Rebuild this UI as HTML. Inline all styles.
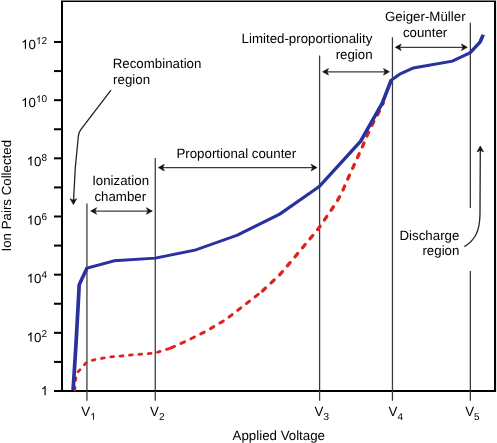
<!DOCTYPE html>
<html><head><meta charset="utf-8"><style>
html,body{margin:0;padding:0;background:#fff;}
#w{will-change:transform;width:497px;height:443px;overflow:hidden;}
svg{display:block;text-rendering:geometricPrecision;}
text{font-family:"Liberation Sans",sans-serif;fill:#000;}
.one{fill-opacity:0;}
</style></head><body><div id="w">
<svg width="497" height="443" viewBox="0 0 497 443">
<defs>
<marker id="ah" viewBox="0 0 10 10" refX="10" refY="5" markerUnits="userSpaceOnUse" markerWidth="6.8" markerHeight="7.6" preserveAspectRatio="none" orient="auto-start-reverse">
<path d="M0,0 L10,5 L0,10 L2.7,5 Z" fill="#111"/>
</marker>
</defs>
<rect x="0" y="0" width="497" height="443" fill="#fff"/>

<!-- frame -->
<rect x="61" y="0" width="435" height="1" fill="#808080"/>
<rect x="496" y="0" width="1" height="392" fill="#e6e6e6"/>
<rect x="61" y="1" width="435" height="1" fill="#000"/>
<rect x="61" y="1" width="2" height="391" fill="#000"/>
<rect x="494" y="1" width="2" height="391" fill="#000"/>
<rect x="54" y="390" width="442" height="2" fill="#000"/>
<rect x="54" y="390.00" width="8" height="2" fill="#000"/><rect x="54" y="360.92" width="8" height="2" fill="#000"/><rect x="54" y="331.83" width="8" height="2" fill="#000"/><rect x="54" y="302.75" width="8" height="2" fill="#000"/><rect x="54" y="273.67" width="8" height="2" fill="#000"/><rect x="54" y="244.58" width="8" height="2" fill="#000"/><rect x="54" y="215.50" width="8" height="2" fill="#000"/><rect x="54" y="186.42" width="8" height="2" fill="#000"/><rect x="54" y="157.33" width="8" height="2" fill="#000"/><rect x="54" y="128.25" width="8" height="2" fill="#000"/><rect x="54" y="99.17" width="8" height="2" fill="#000"/><rect x="54" y="70.08" width="8" height="2" fill="#000"/><rect x="54" y="41.00" width="8" height="2" fill="#000"/>
<!-- vertical lines -->
<g stroke="#383838" stroke-width="1.25">
<line x1="86.95" y1="203.6" x2="86.95" y2="400.7"/>
<line x1="155.25" y1="158.1" x2="155.25" y2="400.7"/>
<line x1="319.6" y1="55.4" x2="319.6" y2="400.7"/>
<line x1="392.45" y1="37.3" x2="392.45" y2="400.7"/>
<line x1="470.35" y1="22.7" x2="470.35" y2="207.9"/>
<line x1="470.35" y1="270.9" x2="470.35" y2="400.7"/>
</g>
<!-- double arrows -->
<g stroke="#3c3c3c" stroke-width="1.25">
<line x1="93" y1="211.0" x2="150" y2="211.0"/>
<line x1="160.5" y1="167.6" x2="315" y2="167.6"/>
<line x1="324.5" y1="71.8" x2="387.5" y2="71.8"/>
<line x1="397.5" y1="47.3" x2="466" y2="47.3"/>
</g>
<!-- recombination arrow -->
<path d="M111,90.1 L80.6,129.8 Q78.6,132.6 78.3,136.5 Q74.6,168 73.5,201" fill="none" stroke="#222" stroke-width="1.3"/>
<!-- discharge arrow -->
<path d="M464.4,246.6 C474.5,240.5 479.8,232 480,214 L480.3,149" fill="none" stroke="#222" stroke-width="1.3"/>
<g fill="#111" stroke="#111" stroke-width="0.6" stroke-linejoin="round">
<path d="M90.70,211.00 L96.60,214.30 L95.00,211.00 L96.60,207.70 Z"/><path d="M152.30,211.00 L146.40,207.70 L148.00,211.00 L146.40,214.30 Z"/>
<path d="M158.40,167.60 L164.30,170.90 L162.70,167.60 L164.30,164.30 Z"/><path d="M317.00,167.60 L311.10,164.30 L312.70,167.60 L311.10,170.90 Z"/>
<path d="M322.60,71.80 L328.50,75.10 L326.90,71.80 L328.50,68.50 Z"/><path d="M389.40,71.80 L383.50,68.50 L385.10,71.80 L383.50,75.10 Z"/>
<path d="M395.30,47.30 L401.20,50.60 L399.60,47.30 L401.20,44.00 Z"/><path d="M467.30,47.30 L461.40,44.00 L463.00,47.30 L461.40,50.60 Z"/>
<path d="M73.40,204.60 L76.70,198.70 L73.40,200.30 L70.10,198.70 Z"/><path d="M480.30,146.00 L477.00,151.90 L480.30,150.30 L483.60,151.90 Z"/>
</g>
<!-- curves -->
<g fill="none" stroke="#e0221f" stroke-width="3" stroke-linecap="round" stroke-linejoin="round">
<polyline points="74.8,390 75.3,380.6 77.2,372.6 80,369.8 86,362.9 90,360.8 96,359.4 110,357.0 130,355.1 155,353.0 170,348.3" stroke-dasharray="2.8 6.6" stroke-width="2.8"/>
<polyline points="170,348.3 188,340.2 206,331.2 225,320.1 243,306.2 261,292.3" stroke-dasharray="3.9 7.1" stroke-dashoffset="-1"/>
<polyline points="261,292.3 280,274.5 295,256.8 310,238.7 318.2,228.9 324.4,219.9 330.6,210.9 336.8,201.8 341.9,192.4 345.9,183.3 349.8,174.5 354,165.3 358.1,156.3 362.3,147.0 366.3,137.3 370.3,128.7 374.8,119.7 379.2,111.5 383.3,102.9" stroke-dasharray="4.2 7.6" stroke-dashoffset="-2" stroke-width="3.3"/>
</g>
<polyline transform="scale(1.28,1)" points="57.10937499999999,390 59.296875,345.7 61.40624999999999,296.7 61.875,284.7 67.96875,268.1 89.0625,260.8 121.328125,258.1 153.203125,249.8 185.234375,235.3 217.96875,214.6 249.453125,186.5 281.640625,141.3 298.4375,103.7 305.625,80.3 312.5,74.0 322.8125,68.0 353.59375,61.1 367.34375,52.7 375.0,42.2 377.5,34.8" fill="none" stroke="#28319e" stroke-width="2.9" stroke-linejoin="round"/>

<text x="47" y="48.7" text-anchor="end" font-size="13.3"><tspan class="one">1</tspan>0<tspan font-size="10" dy="-4.7"><tspan class="one">1</tspan>2</tspan></text><text x="47" y="107.0" text-anchor="end" font-size="13.3"><tspan class="one">1</tspan>0<tspan font-size="10" dy="-4.7"><tspan class="one">1</tspan>0</tspan></text><text x="47" y="165.6" text-anchor="end" font-size="13.3"><tspan class="one">1</tspan>0<tspan font-size="10" dy="-4.7">8</tspan></text><text x="47" y="224.5" text-anchor="end" font-size="13.3"><tspan class="one">1</tspan>0<tspan font-size="10" dy="-4.7">6</tspan></text><text x="47" y="282.7" text-anchor="end" font-size="13.3"><tspan class="one">1</tspan>0<tspan font-size="10" dy="-4.7">4</tspan></text><text x="47" y="341.6" text-anchor="end" font-size="13.3"><tspan class="one">1</tspan>0<tspan font-size="10" dy="-4.7">2</tspan></text><text x="48.1" y="395.3" text-anchor="end" font-size="13.3"><tspan class="one">1</tspan></text>
<text x="112.7" y="67.5" font-size="13.3" text-anchor="start">Recombination</text>
<text x="113.1" y="83.5" font-size="13.3" text-anchor="start">region</text>
<text x="120.6" y="184.5" font-size="13.3" text-anchor="middle">Ionization</text>
<text x="120.3" y="200.6" font-size="13.3" text-anchor="middle">chamber</text>
<text x="236.3" y="158.2" font-size="13.3" text-anchor="middle">Proportional counter</text>
<text x="372.4" y="43.2" font-size="13.3" text-anchor="end">Limited-proportionality</text>
<text x="372.6" y="59.0" font-size="13.3" text-anchor="end">region</text>
<text x="425.3" y="21.2" font-size="13.3" text-anchor="middle">Geiger-Müller</text>
<text x="425.1" y="36.9" font-size="13.3" text-anchor="middle">counter</text>
<text x="459.4" y="240.4" font-size="13.3" text-anchor="end">Discharge</text>
<text x="459.4" y="255.1" font-size="13.3" text-anchor="end">region</text>
<text x="278.8" y="440.0" font-size="13.3" text-anchor="middle">Applied Voltage</text>
<text x="81.3" y="416" font-size="13.3">V<tspan font-size="10" dy="3.8"><tspan class="one">1</tspan></tspan></text><text x="150.0" y="416" font-size="13.3">V<tspan font-size="10" dy="3.8">2</tspan></text><text x="314.5" y="416" font-size="13.3">V<tspan font-size="10" dy="3.8">3</tspan></text><text x="388.5" y="416" font-size="13.3">V<tspan font-size="10" dy="3.8">4</tspan></text><text x="465.2" y="416" font-size="13.3">V<tspan font-size="10" dy="3.8">5</tspan></text>
<text transform="translate(11.4,195.7) rotate(-90)" font-size="13.3" text-anchor="middle">Ion Pairs Collected</text>
<g fill="#000"><path transform="translate(21.06,48.70) scale(0.006494,-0.006309)" d="M763 0H583V1147Q518 1085 412.5 1023T223 930V1104Q375 1175 489 1276T650 1472H763V0Z"/><path transform="translate(35.88,44.00) scale(0.004883,-0.004743)" d="M763 0H583V1147Q518 1085 412.5 1023T223 930V1104Q375 1175 489 1276T650 1472H763V0Z"/><path transform="translate(21.06,107.00) scale(0.006494,-0.006309)" d="M763 0H583V1147Q518 1085 412.5 1023T223 930V1104Q375 1175 489 1276T650 1472H763V0Z"/><path transform="translate(35.88,102.30) scale(0.004883,-0.004743)" d="M763 0H583V1147Q518 1085 412.5 1023T223 930V1104Q375 1175 489 1276T650 1472H763V0Z"/><path transform="translate(26.62,165.60) scale(0.006494,-0.006309)" d="M763 0H583V1147Q518 1085 412.5 1023T223 930V1104Q375 1175 489 1276T650 1472H763V0Z"/><path transform="translate(26.62,224.50) scale(0.006494,-0.006309)" d="M763 0H583V1147Q518 1085 412.5 1023T223 930V1104Q375 1175 489 1276T650 1472H763V0Z"/><path transform="translate(26.62,282.70) scale(0.006494,-0.006309)" d="M763 0H583V1147Q518 1085 412.5 1023T223 930V1104Q375 1175 489 1276T650 1472H763V0Z"/><path transform="translate(26.62,341.60) scale(0.006494,-0.006309)" d="M763 0H583V1147Q518 1085 412.5 1023T223 930V1104Q375 1175 489 1276T650 1472H763V0Z"/><path transform="translate(40.69,395.30) scale(0.006494,-0.006309)" d="M763 0H583V1147Q518 1085 412.5 1023T223 930V1104Q375 1175 489 1276T650 1472H763V0Z"/><path transform="translate(90.18,419.80) scale(0.004883,-0.004743)" d="M763 0H583V1147Q518 1085 412.5 1023T223 930V1104Q375 1175 489 1276T650 1472H763V0Z"/></g>
</svg>
</div></body></html>
